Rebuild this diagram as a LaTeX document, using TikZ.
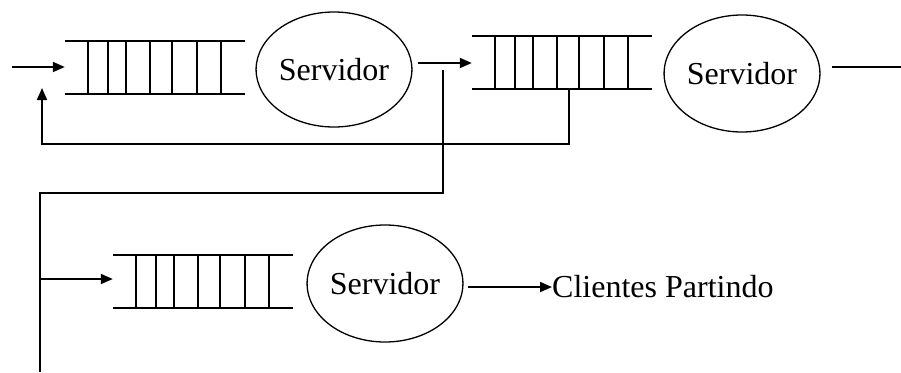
\documentclass[tikz,border=0pt]{standalone}
\usepackage{fontspec}
\setmainfont{Liberation Serif}
\usetikzlibrary{arrows.meta,shapes.geometric}
\tikzset{
  line/.style={line width=1.8pt, black},
  flow/.style={line, -{Triangle[length=12pt,width=10pt]}},
  server/.style={ellipse, draw, line width=1.3pt, inner sep=0pt,
    font=\fontsize{32}{32}\selectfont},
  queuebox/.style={rectangle, minimum width=180pt, minimum height=53pt, inner sep=0pt},
  label/.style={inner sep=0pt, font=\fontsize{32}{32}\selectfont}
}
% a queue: two rails and seven slots
\newcommand{\drawqueue}[1]{%
  \draw[line] (#1.north west) -- (#1.north east);
  \draw[line] (#1.south west) -- (#1.south east);
  \foreach \dx in {23,43,61,85,107,132,156}
    \draw[line] ([xshift=\dx pt]#1.north west) -- ([xshift=\dx pt]#1.south west);
}
\begin{document}
\begin{tikzpicture}[x=1pt,y=-1pt]
\useasboundingbox (0,0) rectangle (901,372);

% queues
\node[queuebox] (q1) at (155,67.5) {};
\node[queuebox] (q2) at (562,62.5) {};
\node[queuebox] (q3) at (203,281.5) {};
\drawqueue{q1}
\drawqueue{q2}
\drawqueue{q3}

% servers
\node[server, minimum width=142pt, minimum height=115pt] (s1) at (334,69.5) {Servidor};
\node[server, minimum width=143pt, minimum height=117pt] (s2) at (742,73.5) {Servidor};
\node[server, minimum width=139pt, minimum height=117pt] (s3) at (385,283.5) {Servidor};

% exits and endpoints
\coordinate (in1) at (12,67);
\coordinate (out1) at (418,63);
\coordinate (out2) at (832,67);
\coordinate (end2) at (901,67);
\coordinate (bottom) at (40,372);
\coordinate (out3) at (468,287);
\node[label, anchor=west] (exit) at (552,287) {Clientes Partindo};

% arrivals
\draw[flow] (in1) -- (q1.west |- in1);
\draw[flow] (out1) -- (q2.west |- out1);
\draw[line] (out2) -- (end2);

% feedback from the second queue back to the first
\draw[flow] (569,89) -- (569,144) -- (42,144) -- (42,88);

% branch down to the third line
\draw[line] (443,70) -- (443,193) -- (40,193) -- (bottom);
\draw[flow] (40,279) -- (q3.west |- 0,279);

% departures
\draw[flow] (out3) -- (exit.west |- out3);
\end{tikzpicture}
\end{document}
